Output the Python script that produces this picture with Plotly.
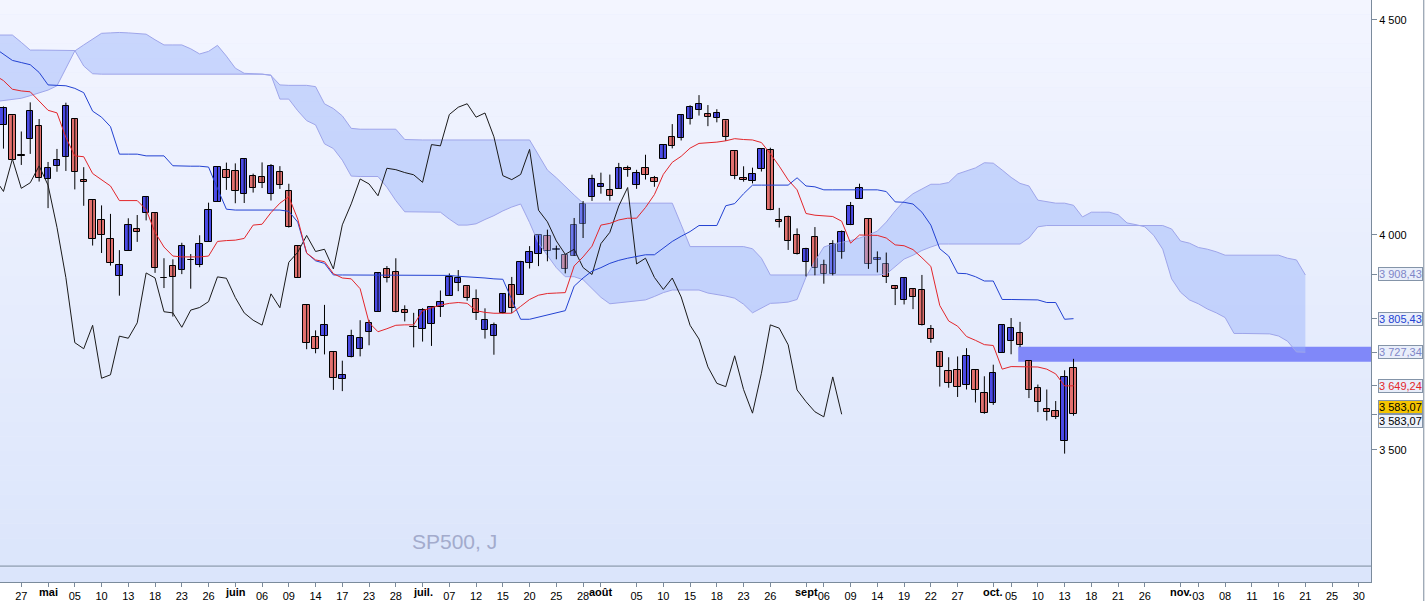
import plotly.graph_objects as go

# SP500 daily, bar index 0 = 27 avril (trading days only)
bar_idx = list(range(-2, 119))
opens = [4255.34, 4278.14, 4186.52, 4222.58, 4253.75, 4130.61, 4159.78, 4181.18, 4270.43, 4128.17,
         4081.27, 4035.18, 3990.08, 3903.95, 3963.90, 4013.02, 4052.00, 4051.98, 3899.00, 3927.76,
         3919.42, 3942.94, 3929.59, 3984.60, 4077.43, 4151.09, 4149.78, 4095.41, 4137.57, 4134.72,
         4096.47, 4147.12, 4101.65, 3974.39, 3838.15, 3763.52, 3764.05, 3728.18, 3665.90, 3715.31,
         3733.89, 3774.71, 3821.75, 3920.76, 3913.00, 3825.09, 3785.99, 3781.00, 3792.61, 3831.98,
         3858.85, 3888.26, 3880.94, 3851.95, 3779.67, 3763.99, 3818.00, 3883.79, 3860.73, 3935.32,
         3955.47, 3998.43, 3965.72, 3953.22, 3951.43, 4026.13, 4087.33, 4112.38, 4104.21, 4107.96,
         4154.85, 4115.87, 4155.93, 4133.11, 4176.79, 4227.40, 4225.02, 4269.37, 4290.46, 4280.40,
         4273.13, 4266.31, 4195.08, 4133.09, 4126.55, 4153.26, 4198.74, 4034.58, 4041.25, 4000.67,
         3936.73, 3994.66, 3930.89, 3909.43, 3959.94, 4022.94, 4083.67, 4037.12, 3940.73, 3932.41,
         3880.95, 3849.91, 3875.23, 3871.40, 3782.36, 3727.14, 3682.72, 3686.44, 3651.94, 3687.01,
         3633.48, 3609.78, 3726.46, 3753.25, 3771.97, 3706.74, 3644.79, 3595.86, 3590.83, 3520.37,
         3690.41]
highs = [4299.02, 4278.14, 4240.71, 4308.45, 4269.68, 4169.81, 4200.10, 4307.66, 4270.43, 4157.69,
         4081.27, 4068.82, 4049.09, 3964.80, 4038.88, 4046.46, 4090.72, 4051.98, 3945.96, 3943.42,
         3981.88, 3955.68, 3999.33, 4075.14, 4158.49, 4168.34, 4166.54, 4177.51, 4142.67, 4168.78,
         4164.86, 4160.14, 4119.10, 3974.39, 3838.15, 3778.18, 3837.48, 3728.18, 3707.71, 3779.65,
         3801.79, 3802.58, 3913.65, 3927.72, 3945.86, 3836.50, 3818.99, 3829.82, 3832.19, 3870.91,
         3910.63, 3918.50, 3880.94, 3873.41, 3829.44, 3796.41, 3863.62, 3902.44, 3939.81, 3974.13,
         3999.29, 4012.44, 3975.30, 3953.22, 4039.56, 4078.95, 4140.15, 4144.95, 4140.47, 4167.66,
         4161.29, 4151.58, 4186.62, 4137.30, 4211.03, 4257.91, 4280.47, 4301.79, 4325.28, 4302.18,
         4292.53, 4266.31, 4195.08, 4159.77, 4156.56, 4200.54, 4203.04, 4062.99, 4044.98, 4015.37,
         3970.23, 4018.43, 3942.55, 3987.89, 4010.50, 4076.81, 4119.28, 4037.12, 3961.94, 3959.14,
         3880.95, 3900.45, 3876.01, 3907.07, 3790.68, 3727.14, 3715.67, 3717.53, 3736.74, 3687.01,
         3671.44, 3698.35, 3791.92, 3806.91, 3797.93, 3706.74, 3652.17, 3640.66, 3613.84, 3685.41,
         3712.00]
lows = [4200.82, 4175.04, 4162.90, 4188.63, 4124.28, 4062.51, 4147.08, 4148.91, 4106.01, 4067.91,
        3975.48, 3958.17, 3928.82, 3858.87, 3963.90, 3983.99, 4033.93, 3911.91, 3876.58, 3810.32,
        3909.04, 3875.13, 3925.03, 3984.60, 4077.43, 4104.88, 4073.85, 4074.37, 4098.67, 4109.18,
        4080.19, 4107.20, 4017.17, 3900.16, 3734.30, 3724.89, 3722.30, 3639.77, 3636.87, 3715.31,
        3717.69, 3743.52, 3821.75, 3889.66, 3820.14, 3799.02, 3738.67, 3752.10, 3742.06, 3809.37,
        3858.85, 3869.34, 3847.22, 3802.36, 3759.07, 3721.56, 3817.18, 3818.63, 3860.73, 3922.03,
        3927.64, 3938.85, 3943.46, 3910.74, 3951.43, 3992.97, 4079.22, 4096.02, 4079.81, 4107.96,
        4135.42, 4107.31, 4128.97, 4112.09, 4176.79, 4201.41, 4219.78, 4256.90, 4277.77, 4253.08,
        4261.98, 4218.70, 4129.86, 4124.03, 4119.97, 4147.59, 4057.66, 4017.42, 3965.21, 3954.53,
        3903.65, 3906.21, 3886.75, 3906.03, 3944.81, 4022.94, 4083.67, 3921.27, 3912.96, 3888.28,
        3837.08, 3838.50, 3827.54, 3789.49, 3749.45, 3647.47, 3644.76, 3623.29, 3640.61, 3610.40,
        3584.13, 3604.93, 3726.46, 3722.66, 3739.22, 3620.73, 3588.10, 3568.45, 3571.98, 3491.58,
        3579.68]
closes = [4296.12, 4175.20, 4183.96, 4287.50, 4131.93, 4155.38, 4175.48, 4300.17, 4146.87, 4123.34,
          3991.24, 4001.05, 3935.18, 3930.08, 4023.89, 4008.01, 4088.85, 3923.68, 3900.79, 3901.36,
          3973.75, 3941.48, 3978.73, 4057.84, 4158.24, 4132.15, 4101.23, 4176.82, 4108.54, 4121.43,
          4160.68, 4115.77, 4017.82, 3900.86, 3749.63, 3735.48, 3789.99, 3666.77, 3674.84, 3764.79,
          3759.89, 3795.73, 3911.74, 3900.11, 3821.55, 3818.83, 3785.38, 3825.33, 3831.39, 3845.08,
          3902.62, 3899.38, 3854.43, 3818.80, 3801.78, 3790.38, 3863.16, 3830.85, 3936.69, 3959.90,
          3998.95, 3961.63, 3966.84, 3921.05, 4023.61, 4072.43, 4130.29, 4118.63, 4091.19, 4155.17,
          4151.94, 4145.19, 4140.06, 4122.47, 4210.24, 4207.27, 4280.15, 4297.14, 4305.20, 4274.04,
          4283.74, 4228.48, 4137.99, 4128.73, 4140.77, 4199.12, 4057.66, 4030.61, 3986.16, 3955.00,
          3966.85, 3924.26, 3908.19, 3979.87, 4006.18, 4067.36, 4110.41, 3932.69, 3946.01, 3901.35,
          3873.33, 3899.89, 3855.93, 3789.93, 3757.99, 3693.23, 3655.04, 3647.29, 3719.04, 3640.47,
          3585.62, 3678.43, 3790.93, 3783.28, 3744.52, 3639.66, 3612.39, 3588.84, 3577.03, 3669.91,
          3583.07]

# Ichimoku lines (index -3 .. 118)
line_idx = list(range(-3, 119))
tenkan = [4372, 4359, 4339, 4335, 4333, 4312, 4290, 4284, 4227, 4184, 4182, 4143, 4129, 4114, 4080,
          4080, 4080, 4059, 4006, 3972, 3951, 3949, 3949, 3949, 3951, 3985, 3987, 3988, 3992, 4023,
          4025, 4052, 4074, 4089, 4037, 3958, 3942, 3938, 3910, 3900, 3898, 3875, 3796, 3775, 3782,
          3790, 3791, 3791, 3824, 3831, 3837, 3841, 3843, 3841, 3824, 3820, 3818, 3818, 3818, 3834,
          3850, 3860, 3864, 3865, 3866, 3928, 3949, 3974, 4023, 4027, 4035, 4039, 4039, 4064, 4094,
          4141, 4169, 4183, 4202, 4213, 4214, 4216, 4219, 4224, 4222, 4221, 4215, 4189, 4160, 4128,
          4105, 4050, 4046, 4044, 4043, 4032, 3981, 4000, 4000, 3999, 3993, 3977, 3975, 3966, 3947,
          3927, 3836, 3800, 3788, 3764, 3755, 3745, 3743, 3688, 3694, 3694, 3694, 3693, 3688, 3677,
          3649, 3649.24]
kijun = [4435, 4420, 4406, 4401, 4396, 4378, 4349, 4348, 4347, 4341, 4331, 4288, 4274, 4252, 4188,
         4188, 4188, 4184, 4184, 4184, 4161, 4160, 4160, 4160, 4158, 4108, 4060, 4058, 4058, 4058,
         4058, 4058, 4058, 4055, 4030, 3958, 3940, 3934, 3907, 3907, 3907, 3907, 3907, 3907, 3907,
         3907, 3907, 3907, 3907, 3907, 3907, 3906, 3904, 3903, 3901, 3900, 3898, 3897, 3850, 3804,
         3804, 3809, 3814, 3819, 3824, 3881, 3900, 3916, 3924, 3934, 3941, 3946, 3950, 3954, 3954,
         3969, 3985, 3997, 4008, 4022, 4022, 4022, 4068, 4073, 4096, 4116, 4116, 4116, 4116, 4116,
         4133, 4114, 4112, 4105, 4105, 4105, 4105, 4105, 4105, 4105, 4101, 4077, 4076, 4072, 4053,
         4023, 3968, 3951, 3911, 3910, 3903, 3893, 3893, 3850, 3850, 3850, 3850, 3849, 3843, 3843,
         3804, 3805.43]

# Kumo (projected 26 bars ahead), index -3 .. 144
cloud_idx = list(range(-3, 145))
span_a = [4465, 4465, 4465, 4448, 4430, 4430, 4430, 4429, 4429, 4429, 4393, 4375, 4374, 4374, 4374,
          4374, 4374, 4374, 4374, 4374, 4374, 4374, 4374, 4374, 4374, 4374, 4374, 4374, 4374, 4374,
          4374, 4372, 4316, 4316, 4289, 4266, 4256, 4212, 4201, 4174, 4137, 4136, 4136, 4136, 4111,
          4080, 4054, 4054, 4054, 4054, 4053, 4037, 4023, 4023, 4026, 4036, 4045, 4056, 4065, 4072,
          4029, 3981, 3951, 3924, 3903, 3903, 3896, 3875, 3855, 3840, 3842, 3844, 3846, 3849, 3857,
          3866, 3872, 3872, 3872, 3872, 3865, 3862, 3858, 3853, 3839, 3819, 3830, 3841, 3842, 3844,
          3850, 3902, 3939, 3972, 3979, 3983, 3987, 3993, 4000, 4009, 4030, 4056, 4079, 4096, 4107,
          4118, 4118, 4122, 4142, 4149, 4156, 4168, 4167, 4151, 4134, 4120, 4114, 4081, 4077, 4074,
          4074, 4069, 4042, 4053, 4053, 4053, 4047, 4028, 4024, 4019, 3999, 3967, 3898, 3867, 3849,
          3840, 3828, 3819, 3808, 3771, 3771, 3771, 3771, 3770, 3765, 3753, 3728, 3727.34]
span_b = [4310, 4313, 4315, 4318, 4324, 4330, 4337, 4347, 4386, 4428, 4442, 4456, 4469, 4470, 4471,
          4470, 4468, 4467, 4454, 4442, 4442, 4442, 4433, 4421, 4427, 4441, 4416, 4388, 4376, 4375,
          4374, 4371, 4349, 4348, 4348, 4348, 4345, 4305, 4294, 4277, 4248, 4246, 4246, 4246, 4246,
          4246, 4222, 4221, 4221, 4221, 4221, 4221, 4221, 4221, 4221, 4221, 4221, 4221, 4221, 4221,
          4221, 4186, 4151, 4133, 4112, 4093, 4074, 4074, 4074, 4074, 4074, 4074, 4074, 4074, 4074,
          4074, 4074, 4024, 3973, 3973, 3973, 3973, 3973, 3973, 3973, 3968, 3946, 3907, 3907, 3907,
          3907, 3907, 3907, 3907, 3907, 3907, 3907, 3907, 3907, 3907, 3909, 3926, 3944, 3953, 3964,
          3972, 3979, 3979, 3979, 3979, 3979, 3979, 3979, 3979, 3979, 3979, 3993, 4019, 4022, 4022,
          4022, 4022, 4022, 4022, 4022, 4022, 4022, 4022, 4022, 4022, 4022, 4022, 4014, 3986, 3981,
          3971, 3967, 3961, 3953, 3953, 3953, 3953, 3953, 3953, 3953, 3946, 3942, 3907, 3908.43]

tick_pos = [0, 3, 6, 9, 12, 15, 18, 21, 24, 27, 30, 33, 36, 39, 42, 45, 48, 51, 54, 57, 60, 63,
            65, 69, 72, 75, 78, 81, 84, 88, 90, 93, 96, 99, 102, 105, 109, 111, 114, 117, 120, 123,
            126, 130, 132, 135, 138, 141, 144, 147, 150]
tick_labels = ["27", "mai", "05", "10", "13", "18", "23", "26", "juin", "06", "09", "14", "17", "23",
               "28", "juil.", "07", "12", "15", "20", "25", "28", "août", "05", "10", "15", "18", "23",
               "26", "sept", "06", "09", "14", "19", "22", "27", "oct.", "05", "10", "13", "18", "21",
               "26", "nov.", "03", "08", "11", "16", "21", "25", "30"]
month_labels = {"mai", "juin", "juil.", "août", "sept", "oct.", "nov."}

zone_low, zone_high, zone_start = 3705, 3740, 111.8

FONT = "Arial, Liberation Sans, sans-serif"
UP_FILL = "#4b4be6"
DOWN_FILL = "#e2716f"


def fmt(v):
    s = f"{v:,.2f}"
    return s.replace(",", " ").replace(".", ",")


fig = go.Figure()

# Kumo
fig.add_trace(go.Scatter(x=cloud_idx, y=span_a, mode="lines",
                         line=dict(color="#9ea5ea", width=1), hoverinfo="skip"))
fig.add_trace(go.Scatter(x=cloud_idx, y=span_b, mode="lines", fill="tonexty",
                         fillcolor="rgba(150,178,250,0.45)",
                         line=dict(color="#9ea5ea", width=1), hoverinfo="skip"))

# candles: wicks then bodies
wx, wy = [], []
for i, h, l in zip(bar_idx, highs, lows):
    wx += [i, i, None]
    wy += [l, h, None]
fig.add_trace(go.Scatter(x=wx, y=wy, mode="lines", line=dict(color="black", width=1),
                         hoverinfo="skip"))

up = [(i, o, c) for i, o, c in zip(bar_idx, opens, closes) if c >= o]
dn = [(i, o, c) for i, o, c in zip(bar_idx, opens, closes) if c < o]
fig.add_trace(go.Bar(x=[u[0] for u in up], base=[u[1] for u in up],
                     y=[max(u[2] - u[1], 1.5) for u in up], width=0.72,
                     marker=dict(color=UP_FILL, line=dict(color="black", width=1))))
fig.add_trace(go.Bar(x=[d[0] for d in dn], base=[d[2] for d in dn],
                     y=[max(d[1] - d[2], 1.5) for d in dn], width=0.72,
                     marker=dict(color=DOWN_FILL, line=dict(color="black", width=1))))

# Chikou = closes shifted back 26 bars
fig.add_trace(go.Scatter(x=[i - 26 for i in bar_idx], y=closes, mode="lines",
                         line=dict(color="#1a1a1a", width=1), hoverinfo="skip"))
fig.add_trace(go.Scatter(x=line_idx, y=kijun, mode="lines",
                         line=dict(color="#2342d2", width=1), hoverinfo="skip"))
fig.add_trace(go.Scatter(x=line_idx, y=tenkan, mode="lines",
                         line=dict(color="#e3262b", width=1), hoverinfo="skip"))

# background gradient
shapes = []
n = 40
top, bot = (243, 245, 255), (219, 229, 251)
for k in range(n):
    t = (k + 0.5) / n
    col = tuple(round(top[j] + (bot[j] - top[j]) * t) for j in range(3))
    shapes.append(dict(type="rect", xref="paper", yref="paper", x0=0, x1=1,
                       y0=1 - (k + 1) / n, y1=1 - k / n, layer="below",
                       fillcolor=f"rgb{col}", line=dict(width=0)))
shapes.append(dict(type="rect", xref="x", yref="y", x0=zone_start, x1=151.36,
                   y0=zone_low, y1=zone_high, layer="below",
                   fillcolor="#8088f9", line=dict(width=0)))
shapes.append(dict(type="line", xref="paper", yref="y", x0=0, x1=1, y0=3230, y1=3230,
                   line=dict(color="#7b8b9c", width=1)))
shapes.append(dict(type="line", xref="paper", yref="paper", x0=1.0385, x1=1.0385, y0=-0.04, y1=1,
                   line=dict(color="#7b8b9c", width=1)))

last_close = closes[-1]
labels = [
    (span_b[-1], "#7f86c8", "#e9eefa", 0),
    (kijun[-1], "#2342d2", "#e9eefa", 0),
    (span_a[-1], "#7f86c8", "#e9eefa", 0),
    (tenkan[-1], "#e3262b", "#e9eefa", 0),
    (last_close, "black", "#f5c400", 7),
    (last_close, "black", "#eef2fb", -7),
]
annotations = []
for v, fc, bg, ys in labels:
    annotations.append(dict(x=1.0052, xref="paper", y=v, yref="y", yshift=ys, text=fmt(v),
                            showarrow=False, xanchor="left", yanchor="middle",
                            font=dict(family=FONT, size=11, color=fc), bgcolor=bg,
                            bordercolor="#8494a8", borderwidth=1, borderpad=0))

# bold month names under the axis
for p, t in zip(tick_pos, tick_labels):
    if t in month_labels:
        annotations.append(dict(x=p, xref="x", y=-0.0165, yref="paper", text=f"<b>{t}</b>",
                                showarrow=False, xanchor="center", yanchor="middle",
                                font=dict(family=FONT, size=11, color="black")))

annotations.append(dict(x=454 / 1371, xref="paper", y=1 - 541 / 582, yref="paper",
                        text="SP500, J", showarrow=False, xanchor="center", yanchor="middle",
                        font=dict(family=FONT, size=21, color="#a3abcc")))

fig.update_layout(
    width=1425, height=601,
    margin=dict(l=0, r=54, t=0, b=19),
    paper_bgcolor="white", plot_bgcolor="#e6ecfc",
    showlegend=False, barmode="overlay", bargap=0,
    shapes=shapes, annotations=annotations,
    xaxis=dict(range=[-2.389, 151.36], tickmode="array", tickvals=tick_pos,
               ticktext=["" if t in month_labels else t for t in tick_labels],
               ticks="outside", ticklen=4, tickcolor="#7b8b9c", showgrid=False, zeroline=False,
               showline=True, linecolor="#7b8b9c", tickfont=dict(family=FONT, size=11, color="black")),
    yaxis=dict(range=[3193.0, 4546.5], side="right", tickmode="array",
               tickvals=[3500, 4000, 4500, 3583.07, 3649.24, 3727.34, 3805.43, 3908.43],
               ticktext=["3 500", "4 000", "4 500", "", "", "", "", ""],
               ticks="outside", ticklen=5, tickcolor="#7b8b9c", showgrid=False, zeroline=False,
               showline=True, linecolor="#7b8b9c", tickfont=dict(family=FONT, size=11, color="black")),
)

fig.write_html("out.html", config={"displayModeBar": False},
               post_script="document.body.style.margin='0px';")
